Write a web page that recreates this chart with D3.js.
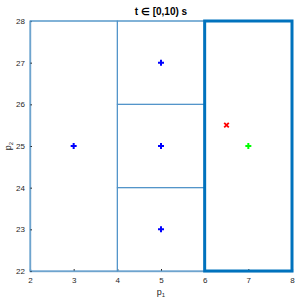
<!DOCTYPE html>
<html><head><meta charset="utf-8">
<script src="https://cdn.jsdelivr.net/npm/d3@7"></script>
<style>body{margin:0;background:#fff}svg{display:block}</style>
</head><body>
<script>
const xTicks = [2,3,4,5,6,7,8];
const yTicks = [22,23,24,25,26,27,28];
const cells = [
  {x0:2,x1:4,y0:22,y1:28},
  {x0:4,x1:6,y0:26,y1:28},
  {x0:4,x1:6,y0:24,y1:26},
  {x0:4,x1:6,y0:22,y1:24}
];
const activeCell = {x0:6,x1:8,y0:22,y1:28};
const bluePts = [[3,25],[5,27],[5,25],[5,23]];
const redPts = [[6.5,25.5]];
const greenPts = [[7,25]];
const titleText = "t \u2208 [0,10) s";

const W=300,H=300;
const m={l:30,r:8,t:21,b:29};
const svg=d3.select("body").append("svg").attr("width",W).attr("height",H);
const x=d3.scaleLinear().domain([2,8]).range([m.l,W-m.r]);
const y=d3.scaleLinear().domain([22,28]).range([H-m.b,m.t]);

const tickCol="#262626";
const ax=svg.append("g").attr("transform",`translate(0,${y(22)})`)
  .call(d3.axisBottom(x).tickValues(xTicks).tickSize(-2).tickPadding(6).tickFormat(d3.format("d")));
const ay=svg.append("g").attr("transform",`translate(${x(2)},0)`)
  .call(d3.axisLeft(y).tickValues(yTicks).tickSize(-2).tickPadding(5).tickFormat(d3.format("d")));
[ax,ay].forEach(g=>{
  g.selectAll("path").attr("stroke","#8fb4d4").attr("stroke-width",1.5);
  g.selectAll("line").attr("stroke",tickCol);
  g.selectAll("text").attr("fill",tickCol).style("font-family","Liberation Sans, Arial, sans-serif").style("font-size","8px");
});
// top and right lines
svg.append("line").attr("x1",x(2)).attr("x2",x(8)).attr("y1",y(28)).attr("y2",y(28)).attr("stroke","#6aa2cf").attr("stroke-width",1);

svg.selectAll("rect.cell").data(cells).enter().append("rect")
  .attr("x",d=>x(d.x0)).attr("y",d=>y(d.y1))
  .attr("width",d=>x(d.x1)-x(d.x0)).attr("height",d=>y(d.y0)-y(d.y1))
  .attr("fill","none").attr("stroke","#4f93c8").attr("stroke-width",1);

svg.append("rect").datum(activeCell)
  .attr("x",d=>x(d.x0)).attr("y",d=>y(d.y1))
  .attr("width",d=>x(d.x1)-x(d.x0)).attr("height",d=>y(d.y0)-y(d.y1))
  .attr("fill","none").attr("stroke","#0072BD").attr("stroke-width",3);

function plus(sel,col){
  sel.append("path").attr("d","M-3,0H3M0,-3V3").attr("stroke",col).attr("stroke-width",2);
}
function cross(sel,col){
  sel.append("path").attr("d","M-2.3,-2.3L2.3,2.3M-2.3,2.3L2.3,-2.3").attr("stroke",col).attr("stroke-width",1.8);
}
svg.selectAll("g.bp").data(bluePts).enter().append("g").attr("transform",d=>`translate(${x(d[0])},${y(d[1])})`).each(function(){plus(d3.select(this),"#0000ff");});
svg.selectAll("g.rp").data(redPts).enter().append("g").attr("transform",d=>`translate(${x(d[0])},${y(d[1])})`).each(function(){cross(d3.select(this),"#ff0000");});
svg.selectAll("g.gp").data(greenPts).enter().append("g").attr("transform",d=>`translate(${x(d[0])},${y(d[1])})`).each(function(){plus(d3.select(this),"#00ff00");});

svg.append("text").attr("x",(x(2)+x(8))/2).attr("y",15).attr("text-anchor","middle")
  .style("font-family","Liberation Sans, Arial, sans-serif").style("font-size","10px").style("font-weight","bold").attr("fill","#000").text(titleText);

const xl=svg.append("text").attr("x",(x(2)+x(8))/2).attr("y",295).attr("text-anchor","middle")
  .style("font-family","Liberation Sans, Arial, sans-serif").style("font-size","9px").attr("fill",tickCol);
xl.append("tspan").text("p");
xl.append("tspan").attr("dy",2).style("font-size","6px").text("1");

const yl=svg.append("text").attr("transform",`translate(11,${(y(22)+y(28))/2}) rotate(-90)`).attr("text-anchor","middle")
  .style("font-family","Liberation Sans, Arial, sans-serif").style("font-size","9px").attr("fill",tickCol);
yl.append("tspan").text("p");
yl.append("tspan").attr("dy",2).style("font-size","6px").text("2");
</script>
</body></html>
